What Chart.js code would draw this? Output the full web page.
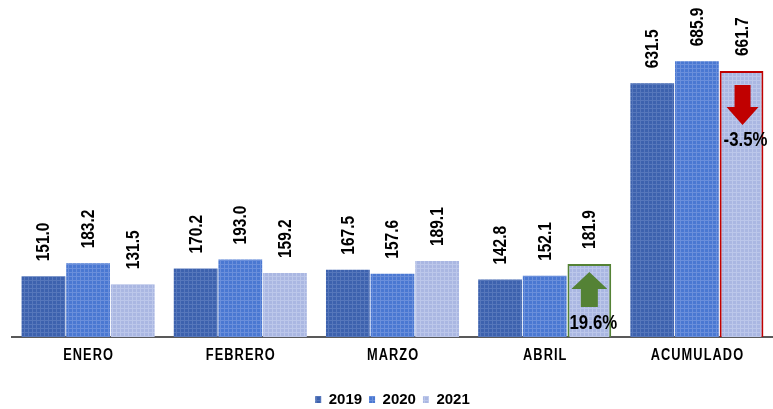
<!DOCTYPE html>
<html><head><meta charset="utf-8">
<script src="https://cdn.jsdelivr.net/npm/chart.js@4.4.0/dist/chart.umd.min.js"></script>
<style>html,body{margin:0;padding:0;background:#fff}#wrap{width:773px;height:409px}</style>
</head><body><div id="wrap"><canvas id="c" width="773" height="409"></canvas></div>
<script>
const categories = ['ENERO','FEBRERO','MARZO','ABRIL','ACUMULADO'];
const years = ['2019','2020','2021'];
const values2019 = [151.0, 170.2, 167.5, 142.8, 631.5];
const values2020 = [183.2, 193.0, 157.6, 152.1, 685.9];
const values2021 = [131.5, 159.2, 189.1, 181.9, 661.7];
const changeLabels = {3: '19.6%', 4: '-3.5%'};

const FONT = "'Liberation Sans',Arial,sans-serif";

function makePattern(base, light) {
  const p = document.createElement('canvas');
  p.width = 4; p.height = 4;
  const g = p.getContext('2d');
  g.fillStyle = base; g.fillRect(0,0,4,4);
  g.fillStyle = light;
  g.fillRect(0,0,4,1);
  g.fillRect(0,0,1,4);
  const ctx = document.getElementById('c').getContext('2d');
  return ctx.createPattern(p, 'repeat');
}
const pat2019 = makePattern('#3d62ae', '#5677bb');
const pat2020 = makePattern('#4a78d2', '#6a8fdb');
const pat2021 = makePattern('#aab7e2', '#bcc7ea');

function narrowText(ctx, text, x, y, size, sx, rotate, align) {
  ctx.save();
  ctx.translate(x, y);
  if (rotate) ctx.rotate(-Math.PI/2);
  ctx.scale(sx, 1);
  ctx.font = 'bold ' + size + 'px ' + FONT;
  ctx.fillStyle = '#000';
  ctx.textAlign = align;
  ctx.textBaseline = 'middle';
  ctx.fillText(text, 0, 0);
  ctx.restore();
}

const labelPlugin = {
  id: 'labels',
  afterDatasetsDraw(chart) {
    const ctx = chart.ctx;
    chart.data.datasets.forEach((ds, di) => {
      const meta = chart.getDatasetMeta(di);
      meta.data.forEach((bar, i) => {
        narrowText(ctx, ds.data[i].toFixed(1), bar.x + 1, bar.y - 15, 18, 0.86, true, 'left');
      });
    });
    const xs = chart.scales.x;
    const axisY = chart.chartArea.bottom;
    categories.forEach((c, i) => {
      const x = xs.getPixelForTick(i);
      narrowText(ctx, c.split('').join(String.fromCharCode(8202)), x, axisY + 19, 16, 0.8, false, 'center');
    });
    const meta = chart.getDatasetMeta(2);
    // up arrow inside ABRIL 2021 bar
    let b = meta.data[3];
    let cx = b.x, ty = b.y;
    ctx.save();
    ctx.fillStyle = '#548235';
    ctx.beginPath();
    ctx.moveTo(cx, ty + 8);
    ctx.lineTo(cx + 18, ty + 25);
    ctx.lineTo(cx + 8.5, ty + 25);
    ctx.lineTo(cx + 8.5, ty + 43);
    ctx.lineTo(cx - 8.5, ty + 43);
    ctx.lineTo(cx - 8.5, ty + 25);
    ctx.lineTo(cx - 18, ty + 25);
    ctx.closePath();
    ctx.fill();
    ctx.restore();
    narrowText(ctx, changeLabels[3], cx + 4, ty + 59, 21, 0.8, false, 'center');
    // down arrow inside ACUMULADO 2021 bar
    b = meta.data[4];
    cx = b.x + 1; ty = b.y;
    ctx.save();
    ctx.fillStyle = '#c00000';
    ctx.beginPath();
    ctx.moveTo(cx - 8, ty + 14);
    ctx.lineTo(cx + 8, ty + 14);
    ctx.lineTo(cx + 8, ty + 36);
    ctx.lineTo(cx + 16, ty + 36);
    ctx.lineTo(cx, ty + 54);
    ctx.lineTo(cx - 16, ty + 36);
    ctx.lineTo(cx - 8, ty + 36);
    ctx.closePath();
    ctx.fill();
    ctx.restore();
    narrowText(ctx, changeLabels[4], cx + 3, ty + 69.5, 21, 0.8, false, 'center');
  }
};

new Chart(document.getElementById('c'), {
  type: 'bar',
  data: {
    labels: categories,
    datasets: [
      {label: years[0], data: values2019, backgroundColor: pat2019, borderWidth: 0},
      {label: years[1], data: values2020, backgroundColor: pat2020, borderWidth: 0},
      {label: years[2], data: values2021, backgroundColor: pat2021,
       borderColor: ['rgba(0,0,0,0)','rgba(0,0,0,0)','rgba(0,0,0,0)','#548235','#c00000'],
       borderWidth: [0,0,0,2,2]}
    ]
  },
  options: {
    responsive: false,
    animation: false,
    layout: {padding: {left: 12, right: 0, top: 5, bottom: -8}},
    datasets: {bar: {barPercentage: 0.98, categoryPercentage: 0.88}},
    scales: {
      x: {
        grid: {display: false, drawTicks: false},
        border: {display: true, color: '#595959', width: 2},
        ticks: {color: 'rgba(0,0,0,0)', font: {family: FONT, size: 14, weight: 'bold'}, padding: 10},
        afterFit: s => { s.height = 48; }
      },
      y: {display: false, min: 0, max: 826}
    },
    plugins: {
      legend: {
        position: 'bottom',
        labels: {color: '#000', boxWidth: 6, boxHeight: 7, padding: 7,
                 font: {family: FONT, size: 15, weight: 'bold'}}
      },
      tooltip: {enabled: false}
    }
  },
  plugins: [labelPlugin]
});
</script></body></html>
